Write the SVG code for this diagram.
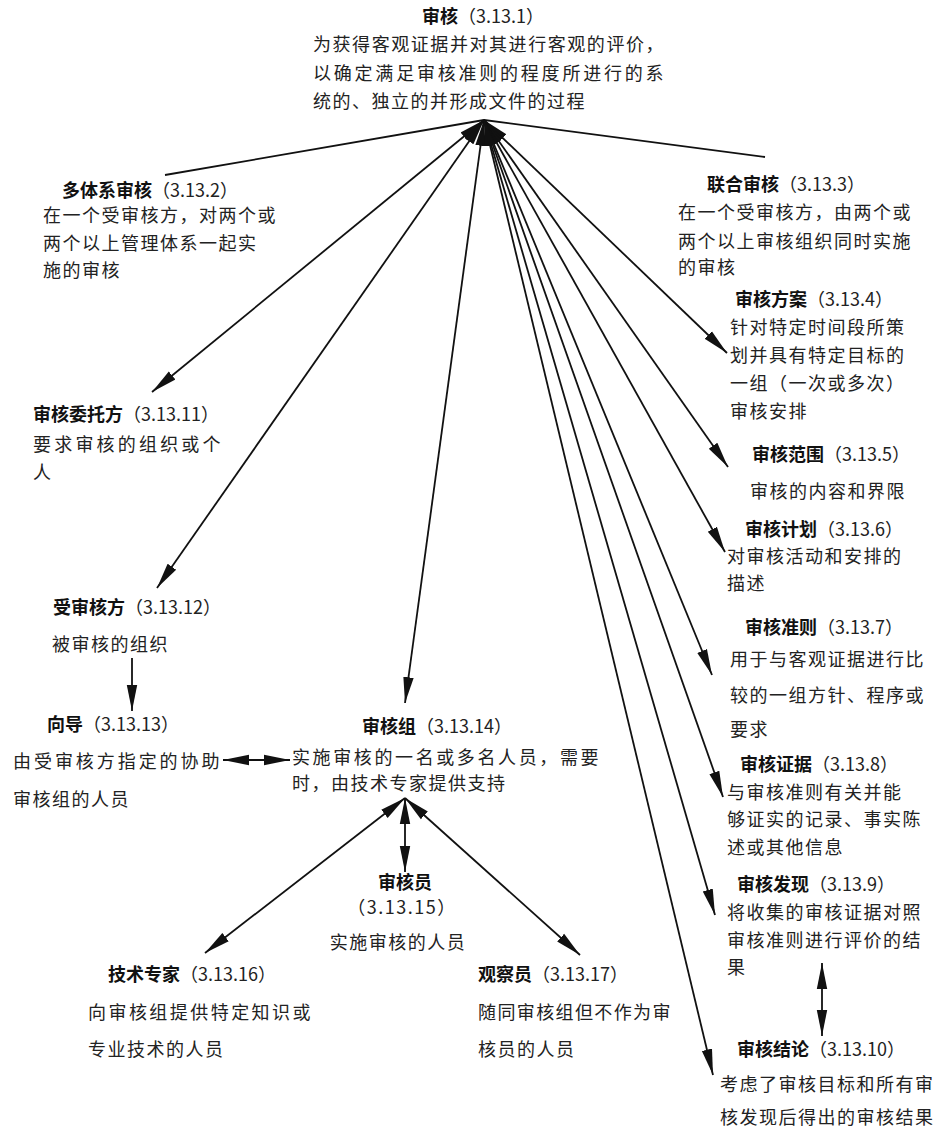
<svg xmlns="http://www.w3.org/2000/svg" width="939" height="1137" viewBox="0 0 939 1137">
<style>
text{font-family:"Noto Sans CJK SC","Noto Sans",sans-serif;font-size:18px;fill:#222;letter-spacing:1.5px}
.t{font-weight:bold;fill:#111;letter-spacing:0}
.n{font-weight:normal;fill:#222}
.c{fill:none;stroke:#111;stroke-width:1.8}
.a{marker-end:url(#ah)}
.s{marker-start:url(#ah)}
</style>
<defs>
<marker id="ah" markerUnits="userSpaceOnUse" markerWidth="26" markerHeight="12" refX="26" refY="6" orient="auto-start-reverse" viewBox="0 0 26 12">
<path d="M0,0.8 L26,6 L0,11.2 z" fill="#111"/>
</marker>
</defs>
<rect width="939" height="1137" fill="#fff"/>
<g id="connectors">
<line class="c" x1="484" y1="120" x2="165" y2="175"/>
<line class="c" x1="484" y1="120" x2="765" y2="157"/>
<line class="c s a" x1="484" y1="120" x2="152" y2="392"/>
<line class="c s a" x1="484" y1="120" x2="157" y2="588"/>
<line class="c s a" x1="484" y1="120" x2="405" y2="703"/>
<line class="c s a" x1="484" y1="120" x2="727" y2="353"/>
<line class="c s a" x1="484" y1="120" x2="728" y2="467"/>
<line class="c s a" x1="484" y1="120" x2="725" y2="552"/>
<line class="c s a" x1="484" y1="120" x2="712" y2="675"/>
<line class="c s a" x1="484" y1="120" x2="723" y2="797"/>
<line class="c s a" x1="484" y1="120" x2="715" y2="915"/>
<line class="c s a" x1="484" y1="120" x2="713" y2="1075"/>
<line class="c a" x1="132" y1="658" x2="132" y2="711"/>
<line class="c s a" x1="223" y1="760" x2="290" y2="760"/>
<line class="c s a" x1="405" y1="798" x2="405" y2="872"/>
<line class="c s a" x1="405" y1="798" x2="205" y2="953"/>
<line class="c s a" x1="405" y1="798" x2="580" y2="955"/>
<line class="c s a" x1="822" y1="963" x2="822" y2="1036"/>
</g>
<g id="n3-13-1">
<text x="422" y="23" class="t">审核<tspan class="n">（3.13.1）</tspan></text>
<text x="313" y="51" textLength="352">为获得客观证据并对其进行客观的评价，</text>
<text x="313" y="80" textLength="352">以确定满足审核准则的程度所进行的系</text>
<text x="313" y="108">统的、独立的并形成文件的过程</text>
</g>
<g id="n3-13-2">
<text x="62" y="197" class="t">多体系审核<tspan class="n">（3.13.2）</tspan></text>
<text x="43" y="222">在一个受审核方，对两个或</text>
<text x="43" y="250">两个以上管理体系一起实</text>
<text x="43" y="277">施的审核</text>
</g>
<g id="n3-13-11">
<text x="33" y="421" class="t">审核委托方<tspan class="n">（3.13.11）</tspan></text>
<text x="33" y="451" textLength="189">要求审核的组织或个</text>
<text x="33" y="479">人</text>
</g>
<g id="n3-13-12">
<text x="53" y="614" class="t">受审核方<tspan class="n">（3.13.12）</tspan></text>
<text x="52" y="651">被审核的组织</text>
</g>
<g id="n3-13-13">
<text x="47" y="731" class="t">向导<tspan class="n">（3.13.13）</tspan></text>
<text x="13" y="768" textLength="208">由受审核方指定的协助</text>
<text x="13" y="806">审核组的人员</text>
</g>
<g id="n3-13-14">
<text x="362" y="733" class="t">审核组<tspan class="n">（3.13.14）</tspan></text>
<text x="292" y="764" textLength="308">实施审核的一名或多名人员，需要</text>
<text x="292" y="790">时，由技术专家提供支持</text>
</g>
<g id="n3-13-15">
<text x="405" y="889" class="t" text-anchor="middle">审核员</text>
<text x="402" y="914" text-anchor="middle" letter-spacing="0">（3.13.15）</text>
<text x="398" y="949" text-anchor="middle">实施审核的人员</text>
</g>
<g id="n3-13-16">
<text x="108" y="981" class="t">技术专家<tspan class="n">（3.13.16）</tspan></text>
<text x="88" y="1019" textLength="224">向审核组提供特定知识或</text>
<text x="88" y="1056">专业技术的人员</text>
</g>
<g id="n3-13-17">
<text x="478" y="981" class="t">观察员<tspan class="n">（3.13.17）</tspan></text>
<text x="478" y="1019" textLength="194">随同审核组但不作为审</text>
<text x="478" y="1056">核员的人员</text>
</g>
<g id="n3-13-3">
<text x="707" y="191" class="t">联合审核<tspan class="n">（3.13.3）</tspan></text>
<text x="678" y="219">在一个受审核方，由两个或</text>
<text x="678" y="248">两个以上审核组织同时实施</text>
<text x="678" y="274">的审核</text>
</g>
<g id="n3-13-4">
<text x="735" y="306" class="t">审核方案<tspan class="n">（3.13.4）</tspan></text>
<text x="730" y="334">针对特定时间段所策</text>
<text x="730" y="362">划并具有特定目标的</text>
<text x="730" y="390">一组（一次或多次）</text>
<text x="730" y="418">审核安排</text>
</g>
<g id="n3-13-5">
<text x="752" y="461" class="t">审核范围<tspan class="n">（3.13.5）</tspan></text>
<text x="750" y="498">审核的内容和界限</text>
</g>
<g id="n3-13-6">
<text x="745" y="536" class="t">审核计划<tspan class="n">（3.13.6）</tspan></text>
<text x="727" y="563">对审核活动和安排的</text>
<text x="727" y="590">描述</text>
</g>
<g id="n3-13-7">
<text x="745" y="634" class="t">审核准则<tspan class="n">（3.13.7）</tspan></text>
<text x="730" y="666">用于与客观证据进行比</text>
<text x="730" y="702">较的一组方针、程序或</text>
<text x="730" y="736">要求</text>
</g>
<g id="n3-13-8">
<text x="740" y="771" class="t">审核证据<tspan class="n">（3.13.8）</tspan></text>
<text x="727" y="799">与审核准则有关并能</text>
<text x="727" y="826">够证实的记录、事实陈</text>
<text x="727" y="854">述或其他信息</text>
</g>
<g id="n3-13-9">
<text x="737" y="891" class="t">审核发现<tspan class="n">（3.13.9）</tspan></text>
<text x="727" y="919">将收集的审核证据对照</text>
<text x="727" y="947">审核准则进行评价的结</text>
<text x="727" y="974">果</text>
</g>
<g id="n3-13-10">
<text x="737" y="1056" class="t">审核结论<tspan class="n">（3.13.10）</tspan></text>
<text x="720" y="1091">考虑了审核目标和所有审</text>
<text x="720" y="1124">核发现后得出的审核结果</text>
</g>
</svg>
